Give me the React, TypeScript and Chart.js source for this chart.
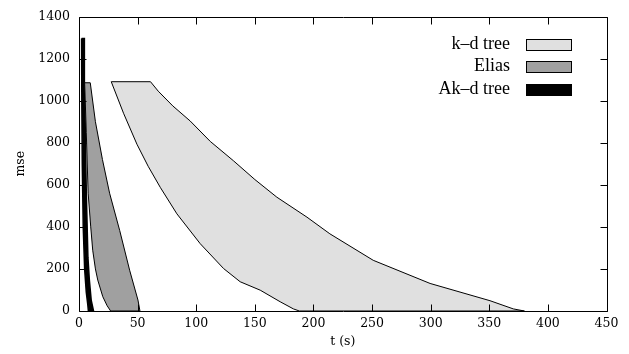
import React, { useEffect, useRef } from "react";
import { Chart, registerables } from "chart.js";

Chart.register(...registerables);

// ---- data ----
const seriesNames = ["k\u2013d tree", "Elias", "Ak\u2013d tree"];
const seriesFill = ["#e0e0e0", "#a0a0a0", "#000000"];

const xTickValues = [0, 50, 100, 150, 200, 250, 300, 350, 400, 450];
const yTickValues = [0, 200, 400, 600, 800, 1000, 1200, 1400];

// k-d tree: fastest (left) and slowest (right) boundary, top -> bottom
const kdLeftT = [27.5, 38, 49.4, 59, 69.3, 83.5, 103.4, 123.3, 137.5, 154.6, 171.6, 182.9, 188];
const kdLeftV = [1090, 940, 793, 688, 588, 462, 320, 202, 139, 99, 44, 10, 0];
const kdRightT = [61, 67.6, 80, 94.9, 112, 131.8, 150, 168.8, 194.5, 214, 251, 299.5, 350.6, 370.5, 380];
const kdRightV = [1090, 1045, 975, 903, 806, 714, 625, 541, 446, 367, 241, 131, 49, 10, 0];

// Elias
const elLeftT = [4.8, 6.2, 7.8, 10, 11.7, 14, 16, 20.3, 24, 27];
const elLeftV = [1085, 850, 560, 400, 289, 200, 147, 68, 25, 0];
const elRightT = [9.6, 14, 20, 26.1, 34.7, 43.2, 50.3, 52];
const elRightV = [1085, 900, 720, 560, 383, 194, 52, 0];

// Ak-d tree
const akLeftT = [2.2, 2.4, 2.8, 3.6, 4.8, 6.2, 7.5, 8];
const akLeftV = [1295, 1000, 700, 400, 200, 90, 30, 0];
const akRightT = [4.6, 5, 5.5, 6.2, 7.6, 8.8, 10.4, 12.4];
const akRightV = [1295, 1000, 800, 572, 256, 150, 52, 0];

function polygon(lt: number[], lv: number[], rt: number[], rv: number[]) {
  const pts: { x: number; y: number }[] = [];
  for (let i = 0; i < lt.length; i++) pts.push({ x: lt[i], y: lv[i] });
  for (let i = rt.length - 1; i >= 0; i--) pts.push({ x: rt[i], y: rv[i] });
  pts.push({ x: lt[0], y: lv[0] });
  return pts;
}

const TICK_FONT = "'DejaVu Serif', serif";
const LEGEND_FONT = "'Liberation Serif', 'Times New Roman', serif";

const framePlugin = {
  id: "frame",
  afterDraw(chart: any) {
    const { ctx, chartArea } = chart;
    const xs = chart.scales.x;
    const ys = chart.scales.y;
    const L = Math.round(chartArea.left) + 0.5;
    const R = Math.round(chartArea.right) + 0.5;
    const T = Math.round(chartArea.top) + 0.5;
    const B = Math.round(chartArea.bottom) + 0.5;
    const tl = 7;
    ctx.save();
    ctx.strokeStyle = "#000";
    ctx.lineWidth = 1;
    ctx.beginPath();
    ctx.rect(L, T, R - L, B - T);
    for (const v of xTickValues) {
      const px = Math.round(xs.getPixelForValue(v)) + 0.5;
      ctx.moveTo(px, B);
      ctx.lineTo(px, B - tl);
      ctx.moveTo(px, T);
      ctx.lineTo(px, T + tl);
    }
    for (const v of yTickValues) {
      const py = Math.round(ys.getPixelForValue(v)) + 0.5;
      ctx.moveTo(L, py);
      ctx.lineTo(L + tl, py);
      ctx.moveTo(R, py);
      ctx.lineTo(R - tl, py);
    }
    ctx.stroke();

    // legend (gnuplot style, inside top-right)
    const boxL = 526;
    const boxW = 45;
    const boxH = 11;
    const textR = 510;
    const rowY = [44, 66.5, 89.5];
    ctx.font = `18px ${LEGEND_FONT}`;
    ctx.textAlign = "right";
    ctx.textBaseline = "middle";
    for (let i = 0; i < seriesNames.length; i++) {
      const cy = rowY[i];
      ctx.fillStyle = "#000";
      ctx.fillText(seriesNames[i], textR, cy);
      const top = Math.round(cy - boxH / 2) + 0.5;
      ctx.fillStyle = seriesFill[i];
      ctx.fillRect(boxL + 0.5, top, boxW, boxH);
      ctx.strokeRect(boxL + 0.5, top, boxW, boxH);
    }
    ctx.restore();
  },
};

export default function App() {
  const ref = useRef<HTMLCanvasElement | null>(null);

  useEffect(() => {
    if (!ref.current) return;
    const mk = (i: number, data: any[], bw: number) => ({
      label: seriesNames[i],
      data,
      showLine: true,
      fill: "shape",
      backgroundColor: seriesFill[i],
      borderColor: "#000",
      borderWidth: bw,
      pointRadius: 0,
      tension: 0,
    });
    const chart = new Chart(ref.current, {
      type: "line",
      data: {
        datasets: [
          mk(0, polygon(kdLeftT, kdLeftV, kdRightT, kdRightV), 1),
          mk(1, polygon(elLeftT, elLeftV, elRightT, elRightV), 1),
          mk(2, polygon(akLeftT, akLeftV, akRightT, akRightV), 1.5),
        ] as any,
      },
      options: {
        animation: false,
        responsive: false,
        events: [],
        layout: { padding: { left: 0, right: 22.5, top: 15, bottom: 0 } },
        plugins: { legend: { display: false }, tooltip: { enabled: false } },
        scales: {
          x: {
            type: "linear",
            min: 0,
            max: 450,
            grid: { display: false, drawTicks: false },
            border: { display: false },
            ticks: {
              stepSize: 50,
              padding: 5,
              color: "#000",
              maxRotation: 0,
              font: { family: TICK_FONT, size: 12.5 },
              callback: (v: any) => String(v),
            },
            title: {
              display: true,
              text: "t (s)",
              color: "#000",
              font: { family: TICK_FONT, size: 12.5 },
              padding: { top: 0, bottom: 4.5 },
            },
            afterFit: (s: any) => {
              s.height = 43;
            },
          },
          y: {
            type: "linear",
            min: 0,
            max: 1400,
            grid: { display: false, drawTicks: false },
            border: { display: false },
            ticks: {
              stepSize: 200,
              padding: 9,
              color: "#000",
              font: { family: TICK_FONT, size: 12.5 },
              callback: (v: any) => String(v),
            },
            title: {
              display: true,
              text: "mse",
              color: "#000",
              font: { family: TICK_FONT, size: 12.5 },
              padding: { top: 13, bottom: 0 },
            },
            afterFit: (s: any) => {
              s.width = 79;
            },
          },
        },
      } as any,
      plugins: [framePlugin],
    });
    return () => chart.destroy();
  }, []);

  return (
    <div style={{ position: "fixed", left: 0, top: 0, width: 629, height: 354, background: "#fff" }}>
      <canvas ref={ref} width={629} height={354} style={{ display: "block" }} />
    </div>
  );
}
